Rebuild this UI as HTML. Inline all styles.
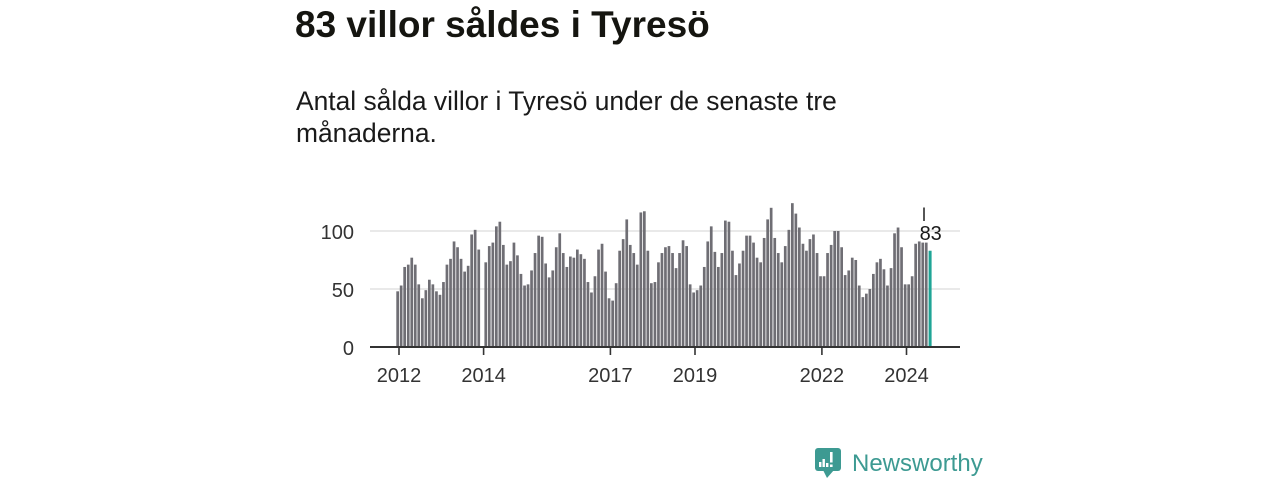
<!DOCTYPE html>
<html>
<head>
<meta charset="utf-8">
<style>
html,body{margin:0;padding:0;background:#fff;}
body{width:1280px;height:480px;overflow:hidden;}
svg{display:block;}
</style>
</head>
<body>
<svg width="1280" height="480" viewBox="0 0 1280 480" xmlns="http://www.w3.org/2000/svg">
<rect width="1280" height="480" fill="#fff"/>
<text x="295" y="37" font-family="'Liberation Sans', sans-serif" font-size="37" font-weight="bold" fill="#151510">83 villor såldes i Tyresö</text>
<text x="296" y="110" font-family="'Liberation Sans', sans-serif" font-size="26.4" fill="#1a1a1a">Antal sålda villor i Tyresö under de senaste tre</text>
<text x="296" y="142" font-family="'Liberation Sans', sans-serif" font-size="26.4" fill="#1a1a1a">månaderna.</text>
<line x1="370" y1="231" x2="960" y2="231" stroke="#dcdcdc" stroke-width="1.2"/>
<line x1="370" y1="289" x2="960" y2="289" stroke="#dcdcdc" stroke-width="1.2"/>
<g font-family="'Liberation Sans', sans-serif" font-size="20" fill="#333" text-anchor="end">
<text x="354" y="239">100</text>
<text x="354" y="297">50</text>
<text x="354" y="355">0</text>
</g>
<g transform="matrix(1,0,0,-1.16,0,347)" fill="#6f6e74">
<rect x="396.3" y="0" width="2.7" height="48"/>
<rect x="399.8" y="0" width="2.7" height="53"/>
<rect x="403.3" y="0" width="2.7" height="69"/>
<rect x="406.9" y="0" width="2.7" height="71"/>
<rect x="410.4" y="0" width="2.7" height="77"/>
<rect x="413.9" y="0" width="2.7" height="71"/>
<rect x="417.4" y="0" width="2.7" height="54"/>
<rect x="421.0" y="0" width="2.7" height="42"/>
<rect x="424.5" y="0" width="2.7" height="49"/>
<rect x="428.0" y="0" width="2.7" height="58"/>
<rect x="431.5" y="0" width="2.7" height="54"/>
<rect x="435.1" y="0" width="2.7" height="48"/>
<rect x="438.6" y="0" width="2.7" height="45"/>
<rect x="442.1" y="0" width="2.7" height="56"/>
<rect x="445.6" y="0" width="2.7" height="71"/>
<rect x="449.2" y="0" width="2.7" height="76"/>
<rect x="452.7" y="0" width="2.7" height="91"/>
<rect x="456.2" y="0" width="2.7" height="86"/>
<rect x="459.7" y="0" width="2.7" height="76"/>
<rect x="463.3" y="0" width="2.7" height="65"/>
<rect x="466.8" y="0" width="2.7" height="70"/>
<rect x="470.3" y="0" width="2.7" height="97"/>
<rect x="473.8" y="0" width="2.7" height="101"/>
<rect x="477.4" y="0" width="2.7" height="84"/>
<rect x="484.4" y="0" width="2.7" height="73"/>
<rect x="487.9" y="0" width="2.7" height="87"/>
<rect x="491.5" y="0" width="2.7" height="90"/>
<rect x="495.0" y="0" width="2.7" height="104"/>
<rect x="498.5" y="0" width="2.7" height="108"/>
<rect x="502.0" y="0" width="2.7" height="88"/>
<rect x="505.5" y="0" width="2.7" height="71"/>
<rect x="509.1" y="0" width="2.7" height="74"/>
<rect x="512.6" y="0" width="2.7" height="90"/>
<rect x="516.1" y="0" width="2.7" height="79"/>
<rect x="519.6" y="0" width="2.7" height="63"/>
<rect x="523.2" y="0" width="2.7" height="53"/>
<rect x="526.7" y="0" width="2.7" height="54"/>
<rect x="530.2" y="0" width="2.7" height="66"/>
<rect x="533.7" y="0" width="2.7" height="81"/>
<rect x="537.3" y="0" width="2.7" height="96"/>
<rect x="540.8" y="0" width="2.7" height="95"/>
<rect x="544.3" y="0" width="2.7" height="72"/>
<rect x="547.8" y="0" width="2.7" height="60"/>
<rect x="551.4" y="0" width="2.7" height="66"/>
<rect x="554.9" y="0" width="2.7" height="86"/>
<rect x="558.4" y="0" width="2.7" height="98"/>
<rect x="561.9" y="0" width="2.7" height="81"/>
<rect x="565.5" y="0" width="2.7" height="69"/>
<rect x="569.0" y="0" width="2.7" height="78"/>
<rect x="572.5" y="0" width="2.7" height="77"/>
<rect x="576.0" y="0" width="2.7" height="84"/>
<rect x="579.5" y="0" width="2.7" height="80"/>
<rect x="583.1" y="0" width="2.7" height="76"/>
<rect x="586.6" y="0" width="2.7" height="56"/>
<rect x="590.1" y="0" width="2.7" height="47"/>
<rect x="593.6" y="0" width="2.7" height="61"/>
<rect x="597.2" y="0" width="2.7" height="84"/>
<rect x="600.7" y="0" width="2.7" height="89"/>
<rect x="604.2" y="0" width="2.7" height="65"/>
<rect x="607.7" y="0" width="2.7" height="42"/>
<rect x="611.3" y="0" width="2.7" height="40"/>
<rect x="614.8" y="0" width="2.7" height="55"/>
<rect x="618.3" y="0" width="2.7" height="83"/>
<rect x="621.8" y="0" width="2.7" height="93"/>
<rect x="625.4" y="0" width="2.7" height="110"/>
<rect x="628.9" y="0" width="2.7" height="88"/>
<rect x="632.4" y="0" width="2.7" height="81"/>
<rect x="635.9" y="0" width="2.7" height="71"/>
<rect x="639.5" y="0" width="2.7" height="116"/>
<rect x="643.0" y="0" width="2.7" height="117"/>
<rect x="646.5" y="0" width="2.7" height="83"/>
<rect x="650.0" y="0" width="2.7" height="55"/>
<rect x="653.6" y="0" width="2.7" height="56"/>
<rect x="657.1" y="0" width="2.7" height="73"/>
<rect x="660.6" y="0" width="2.7" height="81"/>
<rect x="664.1" y="0" width="2.7" height="86"/>
<rect x="667.6" y="0" width="2.7" height="87"/>
<rect x="671.2" y="0" width="2.7" height="81"/>
<rect x="674.7" y="0" width="2.7" height="68"/>
<rect x="678.2" y="0" width="2.7" height="81"/>
<rect x="681.7" y="0" width="2.7" height="92"/>
<rect x="685.3" y="0" width="2.7" height="87"/>
<rect x="688.8" y="0" width="2.7" height="54"/>
<rect x="692.3" y="0" width="2.7" height="47"/>
<rect x="695.8" y="0" width="2.7" height="49"/>
<rect x="699.4" y="0" width="2.7" height="53"/>
<rect x="702.9" y="0" width="2.7" height="69"/>
<rect x="706.4" y="0" width="2.7" height="91"/>
<rect x="709.9" y="0" width="2.7" height="104"/>
<rect x="713.5" y="0" width="2.7" height="82"/>
<rect x="717.0" y="0" width="2.7" height="69"/>
<rect x="720.5" y="0" width="2.7" height="81"/>
<rect x="724.0" y="0" width="2.7" height="109"/>
<rect x="727.6" y="0" width="2.7" height="108"/>
<rect x="731.1" y="0" width="2.7" height="83"/>
<rect x="734.6" y="0" width="2.7" height="62"/>
<rect x="738.1" y="0" width="2.7" height="72"/>
<rect x="741.7" y="0" width="2.7" height="83"/>
<rect x="745.2" y="0" width="2.7" height="96"/>
<rect x="748.7" y="0" width="2.7" height="96"/>
<rect x="752.2" y="0" width="2.7" height="90"/>
<rect x="755.7" y="0" width="2.7" height="77"/>
<rect x="759.3" y="0" width="2.7" height="73"/>
<rect x="762.8" y="0" width="2.7" height="94"/>
<rect x="766.3" y="0" width="2.7" height="110"/>
<rect x="769.8" y="0" width="2.7" height="120"/>
<rect x="773.4" y="0" width="2.7" height="94"/>
<rect x="776.9" y="0" width="2.7" height="81"/>
<rect x="780.4" y="0" width="2.7" height="73"/>
<rect x="783.9" y="0" width="2.7" height="87"/>
<rect x="787.5" y="0" width="2.7" height="101"/>
<rect x="791.0" y="0" width="2.7" height="124"/>
<rect x="794.5" y="0" width="2.7" height="115"/>
<rect x="798.0" y="0" width="2.7" height="103"/>
<rect x="801.6" y="0" width="2.7" height="89"/>
<rect x="805.1" y="0" width="2.7" height="83"/>
<rect x="808.6" y="0" width="2.7" height="93"/>
<rect x="812.1" y="0" width="2.7" height="97"/>
<rect x="815.7" y="0" width="2.7" height="81"/>
<rect x="819.2" y="0" width="2.7" height="61"/>
<rect x="822.7" y="0" width="2.7" height="61"/>
<rect x="826.2" y="0" width="2.7" height="81"/>
<rect x="829.8" y="0" width="2.7" height="88"/>
<rect x="833.3" y="0" width="2.7" height="100"/>
<rect x="836.8" y="0" width="2.7" height="100"/>
<rect x="840.3" y="0" width="2.7" height="86"/>
<rect x="843.8" y="0" width="2.7" height="62"/>
<rect x="847.4" y="0" width="2.7" height="66"/>
<rect x="850.9" y="0" width="2.7" height="77"/>
<rect x="854.4" y="0" width="2.7" height="75"/>
<rect x="857.9" y="0" width="2.7" height="53"/>
<rect x="861.5" y="0" width="2.7" height="43"/>
<rect x="865.0" y="0" width="2.7" height="46"/>
<rect x="868.5" y="0" width="2.7" height="50"/>
<rect x="872.0" y="0" width="2.7" height="63"/>
<rect x="875.6" y="0" width="2.7" height="73"/>
<rect x="879.1" y="0" width="2.7" height="76"/>
<rect x="882.6" y="0" width="2.7" height="67"/>
<rect x="886.1" y="0" width="2.7" height="53"/>
<rect x="889.7" y="0" width="2.7" height="68"/>
<rect x="893.2" y="0" width="2.7" height="98"/>
<rect x="896.7" y="0" width="2.7" height="103"/>
<rect x="900.2" y="0" width="2.7" height="86"/>
<rect x="903.8" y="0" width="2.7" height="54"/>
<rect x="907.3" y="0" width="2.7" height="54"/>
<rect x="910.8" y="0" width="2.7" height="61"/>
<rect x="914.3" y="0" width="2.7" height="89"/>
<rect x="917.9" y="0" width="2.7" height="91"/>
<rect x="921.4" y="0" width="2.7" height="90"/>
<rect x="924.9" y="0" width="2.7" height="90"/>
<rect x="928.6" y="0" width="3.0" height="83" fill="#1fa596"/>
</g>
<line x1="924" y1="207.5" x2="924" y2="221" stroke="#444" stroke-width="1.8"/>
<text x="930.7" y="240" font-family="'Liberation Sans', sans-serif" font-size="20" fill="#1a1a1a" text-anchor="middle">83</text>
<line x1="370" y1="347" x2="960" y2="347" stroke="#333" stroke-width="2"/>
<g stroke="#333" stroke-width="1.6">
<line x1="399" y1="347" x2="399" y2="355"/>
<line x1="483.6" y1="347" x2="483.6" y2="355"/>
<line x1="610.4" y1="347" x2="610.4" y2="355"/>
<line x1="695" y1="347" x2="695" y2="355"/>
<line x1="821.9" y1="347" x2="821.9" y2="355"/>
<line x1="906.5" y1="347" x2="906.5" y2="355"/>
</g>
<g font-family="'Liberation Sans', sans-serif" font-size="20" fill="#333" text-anchor="middle">
<text x="399" y="382">2012</text>
<text x="483.6" y="382">2014</text>
<text x="610.4" y="382">2017</text>
<text x="695" y="382">2019</text>
<text x="821.9" y="382">2022</text>
<text x="906.5" y="382">2024</text>
</g>
<rect x="815" y="448" width="26" height="23" rx="3" fill="#3d9a92"/>
<polygon points="823,470 834,470 827,478" fill="#3d9a92"/>
<rect x="819" y="462" width="2.4" height="5" fill="#fff"/>
<rect x="822.5" y="459" width="2.4" height="8" fill="#fff"/>
<rect x="826" y="463" width="2.4" height="4" fill="#fff"/>
<rect x="830" y="452" width="2.6" height="10.5" fill="#fff"/>
<rect x="830" y="464.5" width="2.6" height="2.5" fill="#fff"/>
<text x="852" y="471" font-family="'Liberation Sans', sans-serif" font-size="24" fill="#3d9a92">Newsworthy</text>
</svg>
</body>
</html>
